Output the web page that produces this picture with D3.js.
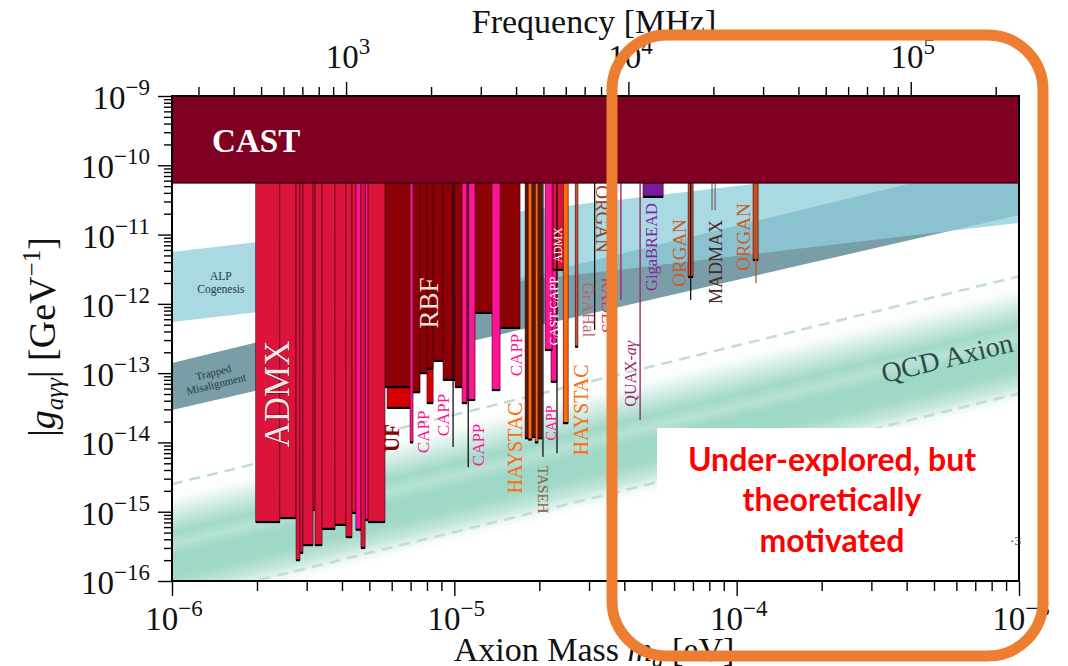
<!DOCTYPE html>
<html><head><meta charset="utf-8">
<script src="https://cdn.jsdelivr.net/npm/d3@7"></script>
<style>body{margin:0;background:#fff}svg{display:block}</style>
</head><body><svg id="c" width="1068" height="666"></svg>
<script>
// ================= DATA =================
const massDomain = [1e-6, 1e-3];            // eV
const couplingDomain = [1e-16, 1e-9];       // GeV^-1
const massTicks = [1e-6, 1e-5, 1e-4, 1e-3];
const massTickExp = ["−6", "−5", "−4", "−3"];
const couplingTicks = [1e-16,1e-15,1e-14,1e-13,1e-12,1e-11,1e-10,1e-9];
const couplingTickExp = ["−16","−15","−14","−13","−12","−11","−10","−9"];
const freqTicks = [1e3, 1e4, 1e5];          // MHz
const freqTickExp = ["3", "4", "5"];
const MHZ_PER_EV = 2.418e8;

const castLimit = 5.55e-11;

// QCD axion band edges (dashed lines)
const qcdUpper = [[1e-6, 2.5e-15], [1e-3, 2.5e-12]];
const qcdLower = [[1e-6, 5.1e-17], [1e-3, 5.1e-14]];
// ALP cogenesis band
const alpTop = [[1e-6, 5.61e-12], [1e-3, 1.51e-10]];
const alpBottom = [[1e-6, 5.48e-13], [1e-3, 1.47e-11]];
// Trapped misalignment band
const trappedTop = [[1e-6, 1.40e-13], [1e-3, 1.32e-10]];
const trappedBottom = [[1e-6, 2.94e-14], [1e-3, 1.92e-11]];

// Exclusions: [mass low, mass high, coupling limit]
const UF = [[5.78e-6,6.97e-6,3.15e-14],[8.0e-6,8.41e-6,3.7e-14]];
const RBF = [[5.68e-6,6.97e-6,6.3e-14],[7.14e-6,7.56e-6,5.3e-14],[7.56e-6,8.0e-6,1.0e-13],
  [8.0e-6,8.41e-6,1.16e-13],[8.41e-6,9.12e-6,1.5e-13],[9.12e-6,1.006e-5,8.0e-14],
  [1.006e-5,1.065e-5,6.3e-14],[1.184e-5,1.36e-5,7.4e-13],[1.452e-5,1.709e-5,4.5e-13]];
const CAPP = [[4.48e-6,4.67e-6,5.5e-16],[4.83e-6,4.95e-6,7.6e-16],[6.97e-6,7.14e-6,1.0e-14],
  [1.065e-5,1.109e-5,3.7e-14],[1.109e-5,1.184e-5,4.1e-14],[1.36e-5,1.452e-5,5.7e-14],
  [2.20e-5,2.31e-5,7.5e-14]];
const CAST_CAPP = [[2.096e-5,2.22e-5,2.16e-13]];
const ADMX = [[1.98e-6,2.41e-6,7.1e-16],[2.41e-6,2.75e-6,8.1e-16],[2.75e-6,2.84e-6,2.0e-16],
  [2.84e-6,2.91e-6,2.55e-16],[2.91e-6,3.16e-6,3.3e-16],[3.16e-6,3.21e-6,1.06e-15],
  [3.21e-6,3.40e-6,3.3e-16],[3.40e-6,3.78e-6,5.65e-16],[3.78e-6,4.13e-6,6.45e-16],
  [4.13e-6,4.34e-6,4.3e-16],[4.34e-6,4.48e-6,9.6e-16],[4.67e-6,4.83e-6,3.0e-16],
  [4.95e-6,5.68e-6,7.1e-16],[2.237e-5,2.43e-5,3.1e-12]];
const HAYSTAC = [[1.824e-5,1.884e-5,1.1e-14],[1.932e-5,1.980e-5,1.0e-14],[2.43e-5,2.53e-5,1.9e-14]];
const HAYSTAC_B = [[1.781e-5,1.824e-5,1.15e-14],[1.884e-5,1.932e-5,1.2e-14],[1.980e-5,2.045e-5,1.15e-14]];
const GRAHAL = [[2.68e-5,2.74e-5,2.4e-13]];
const ORGAN = [[6.73e-5,7.01e-5,2.44e-12],[1.143e-4,1.191e-4,4.3e-12]];
const GIGABREAD = [[4.66e-5,5.49e-5,3.5e-11]];

// Narrow searches drawn as lines: [mass, coupling limit]
const narrowBlack = [[9.9e-6,8.6e-15],[1.12e-5,4.4e-15],[2.06e-5,6.2e-15],[2.31e-5,7.0e-15],
  [3.14e-5,4.2e-13],[6.87e-5,1.14e-12]];
const narrowQUAX = [[3.89e-5,1.14e-12],[4.55e-5,2.1e-14]];
const narrowMADMAX = [[8.18e-5,2.26e-11],[8.39e-5,2.26e-11]];
const narrowORGAN = [[1.17e-4,2.0e-12]];

// Labels: [text, mass, coupling, rotation, style]
const expLabels = [
  ["ADMX", 2.355e-6, 5.0e-14, -90, "admxBig"],
  ["RBF", 8.13e-6, 1.03e-12, -90, "rbf"],
  ["UF", 6.02e-6, 1.16e-14, -90, "uf"],
  ["CAPP", 7.75e-6, 1.42e-14, -90, "capp"],
  ["CAPP", 9.12e-6, 2.49e-14, -90, "capp"],
  ["CAPP", 1.213e-5, 9.2e-15, -90, "capp"],
  ["CAPP", 1.667e-5, 1.83e-13, -90, "capp"],
  ["CAPP", 2.2e-5, 1.91e-14, -90, "cappSmall"],
  ["HAYSTAC", 1.64e-5, 8.3e-15, -90, "haystac"],
  ["HAYSTAC", 2.81e-5, 2.94e-14, -90, "haystac"],
  ["CAST-CAPP", 2.237e-5, 7.9e-13, -90, "castcapp"],
  ["ADMX", 2.33e-5, 7.08e-12, -90, "admxSmall"],
  ["GrAHal", 2.98e-5, 8.17e-13, 90, "grahal"],
  ["RADES", 3.50e-5, 9.6e-13, 90, "rades"],
  ["ORGAN", 3.34e-5, 1.68e-11, 90, "organDark"],
  ["TASEH", 2.06e-5, 2.07e-15, 90, "taseh"],
  ["GigaBREAD", 5.01e-5, 6.62e-12, -90, "giga"],
  ["ORGAN", 6.25e-5, 5.43e-12, -90, "organ"],
  ["MADMAX", 8.45e-5, 4.03e-12, -90, "madmax"],
  ["ORGAN", 1.054e-4, 9.2e-12, -90, "organ"]
];

// ================= STYLE =================
const SERIF = "'Liberation Serif','Times New Roman',serif";
const C = {
  cast:"#7f0022", admx:"#dc143c", capp:"#ff1493", rbf:"#8c0008", uf:"#d60000",
  haystac:"#ff6a0a", haystacB:"#5a1a05", grahal:"#c4553a", organ:"#c8501e",
  giga:"#7a1a9a", quax:"#9c2a6e", madmax:"#6a5a5a",
  alp:"rgb(143,205,218)", trapped:"#7a9ea8", qcd:"#7dcab4", qcdDash:"#c3dcd6"
};
const labelStyle = {
  admxBig:{size:35, fill:"#f7e3e3", stroke:"#5a0010", sw:0.7},
  rbf:{size:27, fill:"#f3e4d8"},
  uf:{size:21, fill:"#8b0000", weight:"bold"},
  capp:{size:17, fill:"#ff1493"},
  cappSmall:{size:14, fill:"#ff1493"},
  haystac:{size:20, fill:"#ff6a0a"},
  castcapp:{size:13, fill:"#ffffff"},
  admxSmall:{size:11.5, fill:"#ffffff"},
  grahal:{size:17, fill:"#c4606a"},
  rades:{size:17, fill:"#e0303a"},
  organDark:{size:19, fill:"#9b3d1e"},
  taseh:{size:15, fill:"#8b5a40"},
  giga:{size:16.5, fill:"#8a1fa5"},
  organ:{size:19, fill:"#cc5a26"},
  madmax:{size:18, fill:"#4b2424"}
};

// ================= CHART =================
const svg = d3.select("#c");
svg.append("rect").attr("width",1068).attr("height",666).attr("fill","#fff");

const x = d3.scaleLog().domain(massDomain).range([172, 1019]);
const y = d3.scaleLog().domain(couplingDomain).range([581, 96]);
const xf = d3.scaleLog().domain(massDomain.map(m => m * MHZ_PER_EV)).range(x.range());
const [X0, X1] = x.range(), [Y1, Y0] = y.range();

const defs = svg.append("defs");
defs.append("clipPath").attr("id","plotClip").append("rect")
  .attr("x",X0).attr("y",Y0).attr("width",X1-X0).attr("height",Y1-Y0);

// QCD gradient perpendicular to band
{
  const P = [x(qcdUpper[0][0]), y(qcdUpper[0][1])], P2 = [x(qcdUpper[1][0]), y(qcdUpper[1][1])];
  const Q = [x(qcdLower[0][0]), y(qcdLower[0][1])];
  let ux = P2[0]-P[0], uy = P2[1]-P[1]; const L = Math.hypot(ux,uy); ux/=L; uy/=L;
  const nx = -uy, ny = ux;
  const dist = (Q[0]-P[0])*nx + (Q[1]-P[1])*ny;
  const ext = 1.15;
  const grad = defs.append("linearGradient").attr("id","qcdGrad").attr("gradientUnits","userSpaceOnUse")
    .attr("x1",P[0]).attr("y1",P[1]).attr("x2",P[0]+nx*dist*ext).attr("y2",P[1]+ny*dist*ext);
  const stops = [[0,0],[0.12,0.04],[0.3,0.45],[0.42,0.72],[0.52,0.55],[0.62,0.75],[0.8,0.72],[0.93,0.45],[1.0,0.2],[1.06,0.03],[1.12,0]];
  stops.forEach(s => grad.append("stop").attr("offset", s[0]/ext).attr("stop-color", C.qcd).attr("stop-opacity", s[1]));
}

const plot = svg.append("g").attr("clip-path","url(#plotClip)");
plot.append("rect").attr("x",X0).attr("y",Y0).attr("width",X1-X0).attr("height",Y1-Y0).attr("fill","url(#qcdGrad)");

const line = d3.line().x(d => x(d[0])).y(d => y(d[1]));
[qcdUpper, qcdLower].forEach(l => plot.append("path").attr("d", line(l)).attr("fill","none")
  .attr("stroke", C.qcdDash).attr("stroke-width",2.6).attr("stroke-dasharray","11,7"));

function band(top, bottom, fill, op) {
  plot.append("path").attr("d", line(top.concat(bottom.slice().reverse())) + "Z")
    .attr("fill", fill).attr("fill-opacity", op);
}
band(trappedTop, trappedBottom, C.trapped, 1);
band(alpTop, alpBottom, C.alp, 0.77);

function bars(data, fill, edge) {
  const g = plot.append("g");
  g.selectAll("rect").data(data).join("rect")
    .attr("x", d => x(d[0])).attr("width", d => x(d[1]) - x(d[0]))
    .attr("y", y(1e-9)).attr("height", d => y(d[2]) - y(1e-9))
    .attr("fill", fill).attr("stroke", edge || "#3a0010").attr("stroke-width", 0.6);
  g.selectAll("line").data(data).join("line")
    .attr("x1", d => x(d[0])).attr("x2", d => x(d[1]))
    .attr("y1", d => y(d[2])).attr("y2", d => y(d[2]))
    .attr("stroke", "#000").attr("stroke-width", 2.2);
}
bars(UF, C.uf);
bars(RBF, C.rbf);
bars(CAPP, C.capp);
bars(CAST_CAPP, C.capp);
bars(ADMX, C.admx);
bars(HAYSTAC, C.haystac);
bars(HAYSTAC_B, C.haystacB);
bars(GRAHAL, C.grahal);
bars(ORGAN, C.organ);
bars(GIGABREAD, C.giga);

function narrow(data, color, w) {
  plot.append("g").selectAll("line").data(data).join("line")
    .attr("x1", d => x(d[0])).attr("x2", d => x(d[0]))
    .attr("y1", y(1e-9)).attr("y2", d => y(d[1]))
    .attr("stroke", color).attr("stroke-width", w);
}
narrow(narrowBlack, "#111", 1.3);
narrow(narrowQUAX, C.quax, 1.4);
narrow(narrowMADMAX, C.madmax, 1.1);
narrow(narrowORGAN, C.organ, 1.3);

// CAST
plot.append("rect").attr("x",X0).attr("width",X1-X0).attr("y",y(1e-9)).attr("height",y(castLimit)-y(1e-9))
  .attr("fill",C.cast).attr("stroke","#2a0008").attr("stroke-width",1.2);
svg.append("text").attr("x", x(1.387e-6)).attr("y", y(1.56e-10)).text("CAST")
  .attr("font-family",SERIF).attr("font-weight","bold").attr("font-size",33).attr("fill","#fff");

// Band labels
const bandTxt = svg.append("g").attr("font-family",SERIF).attr("fill","#1e3a40");
bandTxt.append("text").attr("x", x(1.49e-6)).attr("y", y(2.0e-12)-3).attr("text-anchor","middle").attr("font-size",11.5).text("ALP");
bandTxt.append("text").attr("x", x(1.49e-6)).attr("y", y(2.0e-12)+10).attr("text-anchor","middle").attr("font-size",11.5).text("Cogenesis");
{
  const tm = bandTxt.append("g").attr("transform",`translate(${x(1.42e-6)},${y(8.24e-14)}) rotate(-14)`);
  tm.append("text").attr("y",-3).attr("text-anchor","middle").attr("font-size",11).text("Trapped");
  tm.append("text").attr("y",9).attr("text-anchor","middle").attr("font-size",11).text("Misalignment");
}
svg.append("text").attr("transform",`translate(${x(5.56e-4)},${y(1.66e-13)}) rotate(-13.7)`)
  .attr("text-anchor","middle").attr("dominant-baseline","central")
  .attr("font-family",SERIF).attr("font-size",28).attr("fill","#2c4c46").text("QCD Axion");

// Experiment labels
const lg = svg.append("g").attr("font-family",SERIF);
expLabels.forEach(([t,m,gc,rot,st]) => {
  const s = labelStyle[st];
  const el = lg.append("text").attr("transform",`translate(${x(m)},${y(gc)}) rotate(${rot})`)
    .attr("text-anchor","middle").attr("dominant-baseline","central")
    .attr("font-size", s.size).attr("fill", s.fill).text(t);
  if (s.weight) el.attr("font-weight", s.weight);
  if (s.stroke) el.attr("stroke", s.stroke).attr("stroke-width", s.sw).attr("paint-order","stroke");
});
{
  const q = lg.append("text").attr("transform",`translate(${x(4.19e-5)},${y(9.8e-14)}) rotate(-90)`)
    .attr("text-anchor","middle").attr("dominant-baseline","central").attr("font-size",16).attr("fill",C.quax);
  q.append("tspan").text("QUAX-");
  q.append("tspan").attr("font-style","italic").text("aγ");
}

// ================= AXES =================
function minorTicks(lo, hi) {
  const t = [];
  for (let e = Math.floor(Math.log10(lo)); e < Math.ceil(Math.log10(hi)); e++)
    for (let k = 2; k < 10; k++) { const v = k * Math.pow(10, e); if (v > lo && v < hi) t.push(v); }
  return t;
}
function styleAxis(g) { g.select(".domain").remove(); g.selectAll("line").attr("stroke","#000").attr("stroke-width",1.4); }

svg.append("g").attr("transform",`translate(0,${Y1})`).call(d3.axisBottom(x).tickValues(minorTicks(...massDomain)).tickSize(10).tickFormat("")).call(styleAxis);
svg.append("g").attr("transform",`translate(0,${Y1})`).call(d3.axisBottom(x).tickValues(massTicks).tickSize(15).tickFormat("")).call(styleAxis);
svg.append("g").attr("transform",`translate(${X0},0)`).call(d3.axisLeft(y).tickValues(minorTicks(...couplingDomain)).tickSize(8).tickFormat("")).call(styleAxis);
svg.append("g").attr("transform",`translate(${X0},0)`).call(d3.axisLeft(y).tickValues(couplingTicks).tickSize(14).tickFormat("")).call(styleAxis);
svg.append("g").attr("transform",`translate(0,${Y0})`).call(d3.axisTop(xf).tickValues(minorTicks(...xf.domain())).tickSize(9).tickFormat("")).call(styleAxis);
svg.append("g").attr("transform",`translate(0,${Y0})`).call(d3.axisTop(xf).tickValues(freqTicks).tickSize(14).tickFormat("")).call(styleAxis);

svg.append("rect").attr("x",X0).attr("y",Y0).attr("width",X1-X0).attr("height",Y1-Y0)
  .attr("fill","none").attr("stroke","#000").attr("stroke-width",2);

function powLabel(g, px, py, exp, anchor) {
  const t = g.append("text").attr("x",px).attr("y",py).attr("text-anchor",anchor)
    .attr("font-family",SERIF).attr("font-size",33).attr("fill","#111");
  t.append("tspan").text("10");
  t.append("tspan").attr("dy",-14).attr("font-size",23).text(exp);
}
const axg = svg.append("g");
massTicks.forEach((v,i) => powLabel(axg, x(v)+2, 630, massTickExp[i], "middle"));
couplingTicks.forEach((v,i) => powLabel(axg, 150, y(v)+13, couplingTickExp[i], "end"));
freqTicks.forEach((v,i) => powLabel(axg, xf(v)+2, 68, freqTickExp[i], "middle"));

// Axis titles
svg.append("text").attr("x",594).attr("y",33).attr("text-anchor","middle")
  .attr("font-family",SERIF).attr("font-size",34).attr("fill","#111").text("Frequency [MHz]");
{
  const t = svg.append("text").attr("x",594).attr("y",661).attr("text-anchor","middle")
    .attr("font-family",SERIF).attr("font-size",34).attr("fill","#111");
  t.append("tspan").text("Axion Mass ");
  t.append("tspan").attr("font-style","italic").text("m");
  t.append("tspan").attr("font-size",23).attr("font-style","italic").attr("dy",6).text("a");
  t.append("tspan").attr("dy",-6).text(" [eV]");
}
{
  const t = svg.append("text").attr("transform","translate(55,337) rotate(-90)").attr("text-anchor","middle")
    .attr("font-family",SERIF).attr("font-size",38).attr("fill","#111");
  t.append("tspan").text("|");
  t.append("tspan").attr("font-style","italic").text("g");
  t.append("tspan").attr("font-size",25).attr("font-style","italic").attr("dy",8).text("aγγ");
  t.append("tspan").attr("dy",-8).text("| [GeV");
  t.append("tspan").attr("font-size",25).attr("dy",-15).text("−1");
  t.append("tspan").attr("dy",15).text("]");
}

// ================= ANNOTATION OVERLAY =================
svg.append("rect").attr("x",657).attr("y",428).attr("width",360).attr("height",152).attr("fill","#fff");
svg.append("text").attr("x", x(9.3e-4)).attr("y", y(3.3e-16)).attr("font-family",SERIF)
  .attr("font-size",13).attr("fill","#222").text("·3");
const note = svg.append("g").attr("font-family","Lato,'Open Sans',sans-serif").attr("font-weight","bold")
  .attr("font-size",32).attr("fill","#ff0000").attr("text-anchor","middle");
note.append("text").attr("x",832).attr("y",471).text("Under-explored, but");
note.append("text").attr("x",832).attr("y",511).text("theoretically");
note.append("text").attr("x",832).attr("y",552).text("motivated");
svg.append("rect").attr("x",612).attr("y",35).attr("width",431).attr("height",621).attr("rx",55)
  .attr("fill","none").attr("stroke","#ed7d31").attr("stroke-width",11);
</script></body></html>
